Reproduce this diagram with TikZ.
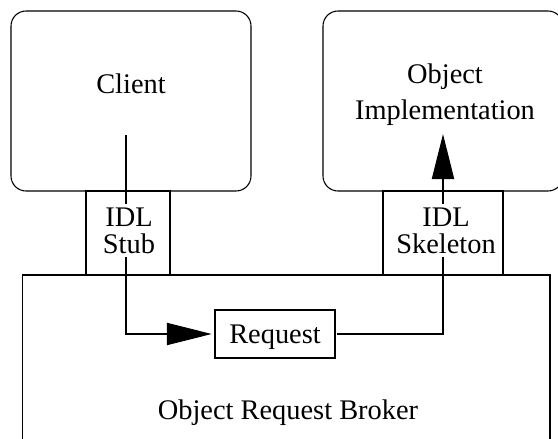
\documentclass[tikz,border=0pt]{standalone}
\usepackage{fontspec}
\setmainfont{Liberation Serif}
\usetikzlibrary{arrows.meta}
\tikzset{
  panel/.style={draw, line width=0.8pt, rounded corners=11.25pt, inner sep=0pt},
  plainbox/.style={draw, line width=0.8pt, inner sep=0pt},
  textlabel/.style={inner sep=2.5pt, align=center, font=\fontsize{21.3}{20.25}\selectfont},
  flow/.style={line width=1.6pt, -{Triangle[length=33.75pt, width=16.5pt]}}
}
\begin{document}
\begin{tikzpicture}[x=0.75pt,y=0.75pt,yscale=-1,xscale=1]
\clip (0,0) rectangle (558,439);

%Shape: Rounded Rect [id:client]
\node (client) [panel, minimum width=180pt, minimum height=135pt] at (131,101) {};
%Shape: Rounded Rect [id:impl]
\node (impl) [panel, minimum width=180pt, minimum height=135pt] at (443,101) {};
%Shape: Rectangle [id:stub]
\node (stub) [plainbox, minimum width=63pt, minimum height=63pt] at (128,233) {};
%Shape: Rectangle [id:skel]
\node (skel) [plainbox, minimum width=90pt, minimum height=63pt] at (443,233) {};
%Shape: Rectangle [id:orb]
\node (orb) [plainbox, minimum width=395.5pt, minimum height=131.25pt] at (286.3,362.5) {};
%Shape: Rectangle [id:request]
\node (request) [plainbox, minimum width=90pt, minimum height=36pt, text depth=0pt, font=\fontsize{21.3}{20.25}\selectfont] at (275,334) {Request};

\coordinate (clientport) at (126,135);
\coordinate (implport) at (443,134);

%Straight Lines [id:call]
\draw [flow, shorten >=2pt] (clientport) |- (request.west);
%Straight Lines [id:dispatch]
\draw [flow, shorten <=1.2pt] (request.east) -| (implport);

% Text Node
\node (clientlbl) [textlabel, anchor=base] at (131,93) {Client};
% Text Node
\node (impllbl) [textlabel, anchor=base, font=\fontsize{21.3}{26.8}\selectfont] at (445,119) {Object\\Implementation};
% Text Node
\node (stublbl) [textlabel, fill=white, anchor=base] at (129,253) {IDL\\Stub};
% Text Node
\node (skellbl) [textlabel, fill=white, anchor=base] at (446,253) {IDL\\Skeleton};
% Text Node
\node (orblbl) [textlabel, anchor=base] at (288,419) {Object Request Broker};

\end{tikzpicture}
\end{document}
